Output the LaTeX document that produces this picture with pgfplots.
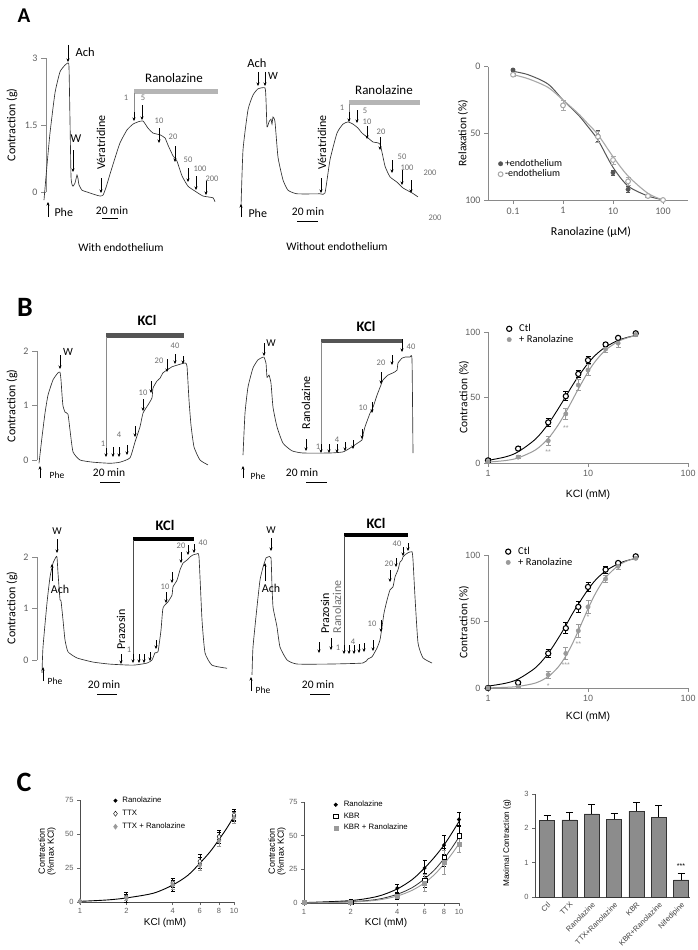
\documentclass[border=0pt]{standalone}
\usepackage{fontspec}
\setmainfont{Carlito}
\newfontfamily\arialf{Liberation Sans}
\usepackage{pgfplots}
\pgfplotsset{compat=1.18}
\usetikzlibrary{arrows.meta}
\definecolor{trace}{HTML}{303030}
\definecolor{ranbar}{HTML}{B5B5B5}
\definecolor{kclbar}{HTML}{555555}
\definecolor{axgray}{HTML}{8A8A8A}
\definecolor{ticktext}{HTML}{606060}
\definecolor{conc}{HTML}{707070}
\definecolor{darkpt}{HTML}{555555}
\definecolor{lightpt}{HTML}{A8A8A8}
\definecolor{rangray}{HTML}{9A9A9A}
\definecolor{bargray}{HTML}{8C8C8C}
\newcommand{\fs}[1]{\fontsize{#1}{#1}\selectfont}
\pgfplotsset{
  /pgf/number format/assume math mode=true,
  tracestyle/.style={scale only axis, clip=false, axis x line=none, axis y line=left,
     xtick=\empty, y axis line style={-,axgray,line width=0.6pt},
     tick align=outside, major tick length=5pt, ytick style={axgray,line width=0.6pt},
     yticklabel style={font=\fs{10}, text=ticktext}},
  hidetrace/.style={scale only axis, clip=false, hide axis},
  trl/.style={trace, line width=0.65pt, smooth, tension=0.3, mark=none},
  drc/.style={scale only axis, clip=false, axis lines=left, axis line style={-,axgray,line width=0.7pt},
     tick align=outside, major tick length=4pt, tick style={axgray,line width=0.6pt},
     xminorticks=false, yminorticks=false, ticklabel style={text=ticktext}},
}
\tikzset{arr/.style={-{Stealth[length=3.5pt,width=3pt]}, line width=0.55pt, black}}
\begin{document}
\begin{tikzpicture}
\path[use as bounding box] (0,0) rectangle (697pt,-950pt);
\fill[white] (0,0) rectangle (697pt,-950pt);

% ================= PANEL A traces =================
\begin{axis}[tracestyle, at={(46pt,-192pt)}, anchor=south west, width=174pt, height=134pt,
  xmin=46, xmax=220, ymin=0, ymax=3, ytick={0,1.5,3}, yticklabels={0,1.5,3}]
\addplot[trl] coordinates {(44,-0.18)(47,0.6)(50,1.32)(55,2.22)(60,2.69)(65,2.84)(68,2.89)(69,2.80)(70,1.6)(71,0.35)(72,0.17)(73,0.13)(75,0.2)(77,0.38)(78,0.3)(79,0.16)(82,0.04)(87,0)(95,-0.06)(100,-0.09)(103,-0.07)(106,0.1)(110,0.40)(115,0.76)(120,1.10)(127,1.39)(133,1.52)(138,1.57)(143,1.59)(148,1.43)(153,1.32)(160,1.28)(165,1.21)(168,1.05)(173,0.81)(177,0.69)(182,0.36)(188,0.13)(195,0.02)(203,-0.09)(213,-0.13)(215,-0.22)};
\end{axis}
\begin{axis}[hidetrace, at={(235pt,-192pt)}, anchor=south west, width=190pt, height=134pt,
  xmin=235, xmax=425, ymin=0, ymax=3]
\addplot[trl] coordinates {(241,-0.34)(243,0.94)(248,1.84)(253,2.17)(258,2.31)(265,2.33)(266,2.06)(267,1.46)(269,1.57)(271,1.63)(272,1.52)(273,1.68)(275,1.57)(278,0.78)(283,0.27)(288,0.04)(297,-0.04)(320,-0.04)(325,-0.02)(330,0.72)(337,1.32)(343,1.52)(348,1.57)(353,1.52)(358,1.43)(362,1.32)(367,1.23)(373,1.12)(380,1.07)(385,0.58)(390,0.34)(397,0.22)(403,0.09)(412,-0.02)(418,-0.11)};
\end{axis}

% ================= PANEL A dose-response =================
\begin{axis}[drc, at={(488pt,-200pt)}, anchor=south west, width=200pt, height=133.3pt,
  xmode=log, xmin=0.0316, xmax=316, ymin=0, ymax=100, y dir=reverse,
  xtick={0.1,1,10,100}, xticklabels={0.1,1,10,100}, ytick={0,50,100}, yticklabels={0,50,100},
  ticklabel style={font=\fs{10}},
  legend style={at={(0.035,0.335)}, anchor=north west, draw=none, fill=none, font=\fs{10}, row sep=-2pt},
  legend cell align=left,
  legend image code/.code={\draw[mark repeat=2,mark phase=2,#1] plot coordinates {(0pt,0pt)(3pt,0pt)(6pt,0pt)};}]
\addplot[darkpt, line width=1pt, smooth, forget plot] coordinates {(0.1,3.5)(0.2,6)(0.5,13)(1,25)(2,36)(3,44)(5,55)(10,75.5)(20,89.5)(50,97)(100,99.8)};
\addplot[lightpt, line width=1.1pt, smooth, forget plot] coordinates {(0.1,6)(0.2,9)(0.5,15.5)(1,25)(2,35)(3,42)(5,51)(10,67.5)(20,82)(50,95)(100,100)};
\addplot[only marks, mark=*, mark size=2.2pt, darkpt, error bars/.cd, y dir=both, y explicit,
  error bar style={darkpt,line width=0.6pt}, error mark options={rotate=90,mark size=2pt,darkpt}]
  coordinates {(0.1,2.5)+-(0,1) (1,29)+-(0,4) (5,52)+-(0,4) (10,79.5)+-(0,2) (20,92)+-(0,2) (50,97)+-(0,1) (100,100)+-(0,0)};
\addlegendentry{+endothelium}
\addplot[only marks, mark=*, mark size=2.4pt, lightpt, line width=1pt, mark options={fill=white}, error bars/.cd, y dir=both, y explicit,
  error bar style={lightpt,line width=0.8pt}, error mark options={rotate=90,mark size=2.5pt,lightpt,line width=0.8pt}]
  coordinates {(0.1,6)+-(0,1) (1,29)+-(0,4) (5,52.5)+-(0,4) (10,70)+-(0,3) (20,86)+-(0,3) (50,97)+-(0,1) (100,100)+-(0,0)};
\addlegendentry{-endothelium}
\end{axis}

% ================= PANEL B traces =================
\begin{axis}[tracestyle, at={(37pt,-460pt)}, anchor=south west, width=173pt, height=109pt,
  xmin=37, xmax=210, ymin=0, ymax=2, ytick={0,1,2}, yticklabels={0,1,2}]
\addplot[trl] coordinates {(39,-0.06)(42,0.42)(45,0.86)(48,1.19)(53,1.47)(58,1.60)(60,1.61)(61,1.47)(62,1.2)(63,0.99)(65,0.88)(68,0.84)(70,0.55)(73,0.15)(80,0)(93,-0.04)(110,-0.06)(120,-0.04)(130,0.04)(135,0.33)(140,0.61)(143,0.86)(148,1.01)(152,1.14)(153,1.32)(157,1.45)(160,1.50)(163,1.60)(167,1.65)(172,1.71)(177,1.74)(185,1.78)(187,1.72)(189,1.10)(191,0.64)(194,0.24)(200,0)(208,-0.09)};
\end{axis}
\begin{axis}[hidetrace, at={(240pt,-453pt)}, anchor=south west, width=180pt, height=109pt,
  xmin=240, xmax=420, ymin=0, ymax=2]
\addplot[trl] coordinates {(243,-0.04)(245,0.73)(248,1.21)(253,1.56)(258,1.71)(263,1.76)(264,1.76)(266,1.65)(267,1.39)(269,1.43)(271,1.28)(273,0.84)(277,0.48)(283,0.18)(292,0.04)(303,0)(330,0)(343,0.02)(350,0.09)(355,0.15)(362,0.24)(363,0.33)(365,0.48)(370,0.73)(373,0.84)(377,1.06)(381,1.25)(383,1.34)(388,1.43)(393,1.47)(397,1.52)(398,1.65)(402,1.74)(405,1.76)(410,1.76)(412,1.71)(413,0)};
\end{axis}
\begin{axis}[tracestyle, at={(37pt,-660pt)}, anchor=south west, width=193pt, height=103pt,
  xmin=37, xmax=230, ymin=0, ymax=2, ytick={0,1,2}, yticklabels={0,1,2}]
\addplot[trl] coordinates {(42,-0.25)(43,0.25)(47,1.11)(50,1.61)(53,1.88)(56,2.00)(57,2.00)(58,1.69)(60,1.17)(61,1.15)(63,0.78)(65,0.39)(68,0.16)(77,0.04)(93,-0.04)(110,-0.08)(133,-0.10)(147,-0.06)(152,0)(155,0.14)(158,0.16)(161,0.58)(163,1.01)(168,1.13)(172,1.26)(173,1.42)(177,1.55)(180,1.75)(183,1.88)(187,1.94)(190,2.00)(193,2.04)(197,2.06)(199,2.00)(202,0.78)(205,0.14)(212,-0.10)(227,-0.16)};
\end{axis}
\begin{axis}[hidetrace, at={(245pt,-663pt)}, anchor=south west, width=190pt, height=103pt,
  xmin=245, xmax=435, ymin=0, ymax=2]
\addplot[trl] coordinates {(252,-0.23)(253,0.31)(257,1.09)(260,1.61)(263,1.86)(266,2.04)(268,2.06)(271,2.04)(272,1.48)(273,1.09)(275,0.89)(277,0.70)(280,0.31)(287,0.06)(297,-0.02)(330,-0.02)(363,0)(368,0.08)(372,0.12)(377,0.29)(380,0.45)(382,0.70)(384,0.97)(387,1.22)(390,1.42)(393,1.48)(395,1.67)(398,1.81)(400,1.96)(402,2.00)(403,2.06)(405,2.10)(408,2.14)(412,2.16)(413,2.00)(415,1.28)(418,0.39)(423,0.10)(432,0)};
\end{axis}

% ================= PANEL B dose-response top =================
\begin{axis}[drc, at={(488pt,-463pt)}, anchor=south west, width=200pt, height=131pt,
  xmode=log, xmin=1, xmax=100, ymin=0, ymax=100,
  xtick={1,10,100}, xticklabels={1,10,100}, ytick={0,50,100}, yticklabels={0,50,100},
  ticklabel style={font=\arialf\fs{9}},
  legend style={at={(0.065,1.09)}, anchor=north west, draw=none, fill=none, font=\fs{10.5}, row sep=-2pt},
  legend cell align=left,
  legend image code/.code={\path[draw=none] (0pt,0pt)--(13pt,0pt); \draw[mark repeat=2,mark phase=2,#1] plot coordinates {(0pt,0pt)(5pt,0pt)(10pt,0pt)};}]
\addplot[black, line width=0.9pt, smooth, forget plot] coordinates {(1,2)(1.5,4.7)(2,8.5)(3,18.4)(4,29.8)(5,41)(6,50.9)(7,59.3)(8,66.1)(10,76.1)(12,82.7)(15,88.6)(20,93.6)(25,96)(30,97.3)};
\addplot[rangray, line width=1pt, smooth, forget plot] coordinates {(1,0.7)(1.5,1.9)(2,3.9)(3,10.1)(4,18.7)(5,28.7)(6,38.8)(7,48.2)(8,56.5)(10,69.5)(12,78.2)(15,86.2)(20,92.8)(25,95.7)(30,97.3)};
\addplot[only marks, mark=*, mark size=2.6pt, black, line width=1.1pt, mark options={fill=white}, error bars/.cd, y dir=both, y explicit,
  error bar style={black,line width=0.8pt}, error mark options={rotate=90,mark size=2.5pt,black,line width=0.8pt}]
  coordinates {(1,2)+-(0,1.5) (2,11)+-(0,1.5) (4,31)+-(0,3) (6,51)+-(0,3.5) (8,68)+-(0,3) (10,78.5)+-(0,2.5) (15,90.5)+-(0,1.5) (20,95.5)+-(0,1.5) (30,99)+-(0,1)};
\addlegendentry{Ctl}
\addplot[only marks, mark=*, mark size=2.2pt, rangray, error bars/.cd, y dir=both, y explicit,
  error bar style={rangray,line width=0.8pt}, error mark options={rotate=90,mark size=2.5pt,rangray,line width=0.8pt}]
  coordinates {(1,1)+-(0,1) (2,4.5)+-(0,1) (4,17)+-(0,3.5) (6,37.5)+-(0,4) (8,59.5)+-(0,4) (10,71)+-(0,4) (15,87)+-(0,2.5) (20,91.5)+-(0,3) (30,98)+-(0,1.5)};
\addlegendentry{+ Ranolazine}
\node[font=\arialf\fs{7}, text=rangray] at (axis cs:4,8) {**};
\node[font=\arialf\fs{7}, text=rangray] at (axis cs:6,27) {**};
\end{axis}

% ================= PANEL B dose-response bottom =================
\begin{axis}[drc, at={(488pt,-688pt)}, anchor=south west, width=200pt, height=133pt,
  xmode=log, xmin=1, xmax=100, ymin=0, ymax=100,
  xtick={1,10,100}, xticklabels={1,10,100}, ytick={0,50,100}, yticklabels={0,50,100},
  ticklabel style={font=\arialf\fs{9}},
  legend style={at={(0.06,1.09)}, anchor=north west, draw=none, fill=none, font=\fs{10.5}, row sep=-2pt},
  legend cell align=left,
  legend image code/.code={\path[draw=none] (0pt,0pt)--(13pt,0pt); \draw[mark repeat=2,mark phase=2,#1] plot coordinates {(0pt,0pt)(5pt,0pt)(10pt,0pt)};}]
\addplot[black, line width=0.9pt, smooth, forget plot] coordinates {(1,1.4)(1.5,3.6)(2,6.7)(3,15.4)(4,26)(5,37)(6,47)(7,56)(8,63)(10,74)(12,81.5)(15,88)(20,93.4)(25,96)(30,97.3)};
\addplot[rangray, line width=1pt, smooth, forget plot] coordinates {(1,0.1)(1.5,0.5)(2,1.2)(3,3.8)(4,8.6)(5,15.5)(6,24)(7,33.5)(8,43)(10,59.5)(12,71.7)(15,83)(20,92)(25,95.8)(30,97.5)};
\addplot[only marks, mark=*, mark size=2.6pt, black, line width=1.1pt, mark options={fill=white}, error bars/.cd, y dir=both, y explicit,
  error bar style={black,line width=0.8pt}, error mark options={rotate=90,mark size=2.5pt,black,line width=0.8pt}]
  coordinates {(1,0)+-(0,0.5) (2,4)+-(0,1) (4,26)+-(0,3) (6,45)+-(0,4) (8,61)+-(0,4) (10,76)+-(0,3.5) (15,89)+-(0,2.5) (20,94)+-(0,1.5) (30,99)+-(0,1)};
\addlegendentry{Ctl}
\addplot[only marks, mark=*, mark size=2.2pt, rangray, error bars/.cd, y dir=both, y explicit,
  error bar style={rangray,line width=0.8pt}, error mark options={rotate=90,mark size=2.5pt,rangray,line width=0.8pt}]
  coordinates {(1,0)+-(0,0.5) (2,1)+-(0,0.5) (4,10)+-(0,2.5) (6,26)+-(0,4.5) (8,43)+-(0,5) (10,61)+-(0,5) (15,82)+-(0,2.5) (20,91.5)+-(0,2) (30,97.5)+-(0,1)};
\addlegendentry{+ Ranolazine}
\node[font=\arialf\fs{7}, text=rangray] at (axis cs:4,1.5) {*};
\node[font=\arialf\fs{7}, text=rangray] at (axis cs:6,17) {***};
\node[font=\arialf\fs{7}, text=rangray] at (axis cs:8,33) {**};
\node[font=\arialf\fs{7}, text=rangray] at (axis cs:10,53) {*};
\end{axis}

% ================= PANEL C1 =================
\begin{axis}[drc, at={(80pt,-902pt)}, anchor=south west, width=154pt, height=102pt,
  xmode=log, xmin=1, xmax=10, ymin=0, ymax=75,
  axis line style={-,black!70,line width=0.6pt}, tick style={black!60,line width=0.5pt}, major tick length=3pt,
  xtick={1,2,4,6,8,10}, xticklabels={1,2,4,6,8,10}, ytick={0,25,50,75}, yticklabels={0,25,50,75},
  ticklabel style={font=\arialf\fs{7.5}, text=ticktext},
  legend style={at={(0.19,1.07)}, anchor=north west, draw=none, fill=none, font=\arialf\fs{7.8}, row sep=2pt},
  legend cell align=left,
  legend image code/.code={\path[draw=none] (0pt,0pt)--(8pt,0pt); \draw[mark repeat=2,mark phase=2,#1] plot coordinates {(0pt,0pt)(3pt,0pt)(6pt,0pt)};}]
\addplot[black, line width=0.9pt, smooth, forget plot] coordinates {(1,0.5)(1.5,1.5)(2,3)(3,6.5)(4,12.5)(5,19.5)(6,28.5)(7,37)(8,46)(9,54.5)(10,63)};
\addplot[only marks, mark=*, mark size=1.8pt, black, error bars/.cd, y dir=both, y explicit,
  error bar style={black,line width=0.6pt}, error mark options={rotate=90,mark size=2pt,black,line width=0.6pt}]
  coordinates {(1,0.5)+-(0,0.5) (2,3)+-(0,3) (4,12)+-(0,4) (6,28)+-(0,5) (8,46)+-(0,5) (10,63)+-(0,4)};
\addlegendentry{Ranolazine}
\addplot[only marks, mark=diamond*, mark size=2.6pt, black, mark options={fill=white}, error bars/.cd, y dir=both, y explicit,
  error bar style={black,line width=0.6pt}, error mark options={rotate=90,mark size=2pt,black,line width=0.6pt}]
  coordinates {(1,0.5)+-(0,0.5) (2,3.5)+-(0,3.5) (4,14)+-(0,3.5) (6,30)+-(0,5) (8,48)+-(0,5) (10,64)+-(0,4)};
\addlegendentry{TTX}
\addplot[only marks, mark=diamond*, mark size=2.6pt, rangray, error bars/.cd, y dir=both, y explicit,
  error bar style={rangray,line width=0.6pt}, error mark options={rotate=90,mark size=2pt,rangray,line width=0.6pt}]
  coordinates {(1,0.5)+-(0,0.5) (2,3)+-(0,2) (4,12.5)+-(0,3) (6,27)+-(0,4) (8,45)+-(0,4) (10,62)+-(0,4)};
\addlegendentry{TTX + Ranolazine}
\end{axis}

% ================= PANEL C2 =================
\begin{axis}[drc, at={(304pt,-903pt)}, anchor=south west, width=155pt, height=101pt,
  xmode=log, xmin=1, xmax=10, ymin=0, ymax=75,
  axis line style={-,black!70,line width=0.6pt}, tick style={black!60,line width=0.5pt}, major tick length=3pt,
  xtick={1,2,4,6,8,10}, xticklabels={1,2,4,6,8,10}, ytick={0,25,50,75}, yticklabels={0,25,50,75},
  ticklabel style={font=\arialf\fs{7.5}, text=ticktext},
  legend style={at={(0.165,1.05)}, anchor=north west, draw=none, fill=none, font=\arialf\fs{7.8}, row sep=0.5pt},
  legend cell align=left,
  legend image code/.code={\path[draw=none] (0pt,0pt)--(9pt,0pt); \draw[mark repeat=2,mark phase=2,#1] plot coordinates {(0pt,0pt)(3pt,0pt)(6pt,0pt)};}]
\addplot[black, line width=0.9pt, smooth, forget plot] coordinates {(1,0.3)(2,1.8)(3,5)(4,10.5)(5,17.5)(6,26)(7,34.5)(8,43)(9,52)(10,60.5)};
\addplot[black!80, line width=0.8pt, smooth, forget plot] coordinates {(1,0.2)(2,1)(3,2.8)(4,6.5)(5,11.5)(6,18)(7,25)(8,33)(9,41)(10,49)};
\addplot[rangray, line width=0.9pt, smooth, forget plot] coordinates {(1,0.1)(2,0.7)(3,2.2)(4,5.2)(5,9.5)(6,15)(7,21.5)(8,29)(9,36.5)(10,44)};
\addplot[only marks, mark=*, mark size=1.8pt, black, error bars/.cd, y dir=both, y explicit,
  error bar style={black,line width=0.6pt}, error mark options={rotate=90,mark size=2pt,black,line width=0.6pt}]
  coordinates {(1,0.5)+-(0,0.5) (2,1.5)+-(0,1) (4,11)+-(0,3) (6,26)+-(0,6) (8,43)+-(0,7) (10,62)+-(0,5)};
\addlegendentry{Ranolazine}
\addplot[only marks, mark=square*, mark size=2.2pt, black, mark options={fill=white}, error bars/.cd, y dir=both, y explicit,
  error bar style={black,line width=0.6pt}, error mark options={rotate=90,mark size=2pt,black,line width=0.6pt}]
  coordinates {(1,0.5)+-(0,0.5) (2,0.8)+-(0,0.8) (4,5)+-(0,2) (6,17)+-(0,5) (8,34)+-(0,7) (10,50)+-(0,8)};
\addlegendentry{KBR}
\addplot[only marks, mark=square*, mark size=2pt, rangray, error bars/.cd, y dir=both, y explicit,
  error bar style={rangray,line width=0.6pt}, error mark options={rotate=90,mark size=2pt,rangray,line width=0.6pt}]
  coordinates {(1,0.3)+-(0,0.3) (2,0.5)+-(0,0.5) (4,5)+-(0,1.5) (6,15)+-(0,6) (8,30)+-(0,9) (10,44)+-(0,6)};
\addlegendentry{KBR + Ranolazine}
\end{axis}

% ================= PANEL C3 bars =================
\begin{axis}[scale only axis, clip=false, at={(535pt,-897pt)}, anchor=south west, width=155pt, height=103pt,
  ybar, bar width=15pt, xmin=-0.54, xmax=6.4, ymin=0, ymax=3,
  axis lines=left, axis line style={-,black!70,line width=0.6pt},
  tick align=outside, major tick length=3pt, tick style={black!60,line width=0.5pt},
  xtick={0,1,2,3,4,5,6}, xtick style={draw=none},
  xticklabels={Ctl,TTX,Ranolazine,TTX+Ranolazine,KBR,KBR+Ranolazine,Nifedipine},
  xticklabel style={rotate=45, anchor=north east, font=\arialf\fs{7.5}, text=black!75, inner sep=1pt},
  ytick={0,1,2,3}, yticklabels={0,1,2,3}, yticklabel style={font=\arialf\fs{7.5}, text=ticktext}]
\addplot[fill=bargray, draw=black!80, line width=0.5pt, error bars/.cd, y dir=plus, y explicit,
  error bar style={black,line width=0.6pt}, error mark options={rotate=90,mark size=3.5pt,black,line width=0.6pt}]
  coordinates {(0,2.23)+-(0,0.15) (1,2.25)+-(0,0.23) (2,2.42)+-(0,0.28) (3,2.27)+-(0,0.16) (4,2.5)+-(0,0.25) (5,2.33)+-(0,0.33) (6,0.5)+-(0,0.2)};
\node[font=\arialf\fs{7}] at (axis cs:6,0.9) {***};
\end{axis}

% ================= annotations =================
\begin{scope}[x=1pt,y=-1pt]
% panel letters
\node[font=\bfseries\fs{21}] at (24,16) {A};
\node[font=\bfseries\fs{28}] at (25,307) {B};
\node[font=\bfseries\fs{28}] at (24,782) {C};

% ---- A1 ----
\node[rotate=90, font=\fs{12}] at (12,125) {Contraction (g)};
\draw[arr] (68,45)--(68,62); \node[anchor=west, font=\fs{12.5}] at (72,52) {Ach};
\draw[arr] (73,150)--(73,172); \node[font=\fs{12}] at (76,139) {W};
\draw[arr] (48,217)--(48,202); \node[anchor=west, font=\fs{12}] at (51,212) {Phe};
\node[rotate=90, anchor=west, font=\fs{12}] at (101,173) {Vératridine};
\draw[arr] (101,178)--(101,193);
\node[font=\fs{11.5}] at (112,211) {20 min};
\draw[line width=1pt] (102,218)--(118,218);
\node[font=\fs{13}] at (174,78) {Ranolazine};
\fill[ranbar] (134,88.5) rectangle (218,93.5);
\draw[axgray, line width=0.5pt] (134,93)--(134,114); \draw[arr] (134,112)--(134,121);
\begin{scope}[every node/.style={font=\fs{8.5}, text=conc}]
\node at (126,98) {1};
\node at (143,98) {5};
\node at (159,121) {10};
\node at (173,137) {20};
\node at (188,160) {50};
\node at (200,169) {100};
\node at (212,179) {200};
\end{scope}
\draw[arr] (142,105)--(142,120);
\draw[arr] (159,128)--(159,143);
\draw[arr] (175,146)--(175,162);
\draw[arr] (188,168)--(188,182);
\draw[arr] (196,176)--(196,190);
\draw[arr] (206,181)--(206,195);
\node[font=\fs{11.5}] at (121,248) {With endothelium};

% ---- A2 ----
\draw[arr] (258,72)--(258,86); \node[font=\fs{12.5}] at (257,63) {Ach};
\draw[arr] (265,72)--(265,86); \node[font=\fs{11}] at (273,76) {W};
\draw[arr] (241,217)--(241,204); \node[anchor=west, font=\fs{12}] at (245,213) {Phe};
\node[rotate=90, anchor=west, font=\fs{12}] at (322,173) {Vératridine};
\draw[arr] (321,178)--(321,193);
\node[font=\fs{11.5}] at (308,212) {20 min};
\draw[line width=1pt] (297,221)--(318,221);
\node[font=\fs{13}] at (384,90) {Ranolazine};
\fill[ranbar] (349,99.5) rectangle (420,104.5);
\draw[axgray, line width=0.5pt] (349,104)--(349,114); \draw[arr] (349,112)--(349,122);
\begin{scope}[every node/.style={font=\fs{8.5}, text=conc}]
\node at (342,108) {1};
\node at (365,111) {5};
\node at (367,122) {10};
\node at (381,132) {20};
\node at (402,157) {50};
\node at (407,168) {100};
\node at (430,173) {200};
\node at (435,218) {200};
\end{scope}
\draw[arr] (357,110)--(357,123);
\draw[arr] (367,126)--(367,139);
\draw[arr] (380,137)--(380,150);
\draw[arr] (392,160)--(392,173);
\draw[arr] (402,170)--(402,185);
\draw[arr] (411,180)--(411,193);
\node[font=\fs{11.5}] at (337,247) {Without endothelium};

% ---- A right labels ----
\node[rotate=90, font=\fs{11.5}] at (463,133) {Relaxation (\%)};
\node[font=\fs{12}] at (591,232) {Ranolazine (µM)};

% ---- B1 ----
\node[rotate=90, font=\fs{12}] at (12,406) {Contraction (g)};
\draw[arr] (60,355)--(60,369); \node[font=\fs{11}] at (68,352) {W};
\draw[arr] (40,478)--(40,466); \node[font=\fs{9.5}] at (57,475) {Phe};
\node[font=\bfseries\fs{14.5}] at (147,320) {KCl};
\fill[kclbar] (106,333) rectangle (184,337.5);
\draw[axgray, line width=0.5pt] (106,337)--(106,450); \draw[arr] (106,448)--(106,457);
\draw[arr] (113,447)--(113,457);
\draw[arr] (119,447)--(119,457);
\draw[arr] (127,445)--(127,455);
\draw[arr] (135,426)--(135,437);
\draw[arr] (143,399)--(143,411);
\draw[arr] (151,381)--(151,393);
\draw[arr] (167,359)--(167,372);
\draw[arr] (175,354)--(175,364);
\draw[arr] (183,356)--(183,364);
\begin{scope}[every node/.style={font=\fs{8.5}, text=conc}]
\node at (103,444) {1};
\node at (119,435) {4};
\node at (143,393) {10};
\node at (159,361) {20};
\node at (175,346) {40};
\end{scope}
\node[font=\fs{11.5}] at (109,473) {20 min};
\draw[line width=1pt] (100,482)--(120,482);

% ---- B2 ----
\draw[arr] (264,343)--(264,356); \node[font=\fs{10.5}] at (271,343) {W};
\draw[arr] (243,478)--(243,466); \node[font=\fs{9.5}] at (258,476) {Phe};
\node[rotate=90, anchor=west, font=\fs{12}] at (306,433) {Ranolazine};
\draw[arr] (306,439)--(306,451);
\node[font=\bfseries\fs{14.5}] at (366,326) {KCl};
\fill[kclbar] (321,338.5) rectangle (403,343);
\draw[axgray, line width=0.5pt] (321,342)--(321,446); \draw[arr] (321,444)--(321,453);
\draw[arr] (329,444)--(329,453);
\draw[arr] (337,444)--(337,453);
\draw[arr] (345,442)--(345,451);
\draw[arr] (353,440)--(353,449);
\draw[arr] (362,429)--(362,439);
\draw[arr] (372,402)--(372,413);
\draw[arr] (381,372)--(381,384);
\draw[arr] (392,355)--(392,365);
\draw[arr] (402,339)--(402,352);
\begin{scope}[every node/.style={font=\fs{8.5}, text=conc}]
\node at (318,447) {1};
\node at (337,440) {4};
\node at (363,408) {10};
\node at (381,363) {20};
\node at (411,347) {40};
\end{scope}
\node[font=\fs{11.5}] at (302,473) {20 min};
\draw[line width=1pt] (306,482)--(327,482);

% ---- B3 ----
\node[rotate=90, font=\fs{12}] at (12,608) {Contraction (g)};
\draw[arr] (57,539)--(57,553); \node[font=\fs{10.5}] at (57,531) {W};
\draw[arr] (52,581)--(52,564); \node[font=\fs{12}] at (60,589) {Ach};
\draw[arr] (43,681)--(43,667); \node[font=\fs{9.5}] at (55,681) {Phe};
\node[rotate=90, anchor=west, font=\fs{12}] at (121,653) {Prazosin};
\draw[arr] (121,654)--(121,664);
\node[font=\bfseries\fs{14.5}] at (165,525) {KCl};
\fill[black] (133,537) rectangle (194,541);
\draw[black!70, line width=0.5pt] (133,540)--(133,656); \draw[arr] (133,654)--(133,663);
\draw[arr] (139,654)--(139,663);
\draw[arr] (144,654)--(144,663);
\draw[arr] (150,652)--(150,661);
\draw[arr] (156,640)--(156,649);
\draw[arr] (166,592)--(166,603);
\draw[arr] (172,572)--(172,583);
\draw[arr] (181,552)--(181,563);
\draw[arr] (188,545)--(188,555);
\draw[arr] (194,544)--(194,553);
\begin{scope}[every node/.style={font=\fs{8.5}, text=conc}]
\node at (129,650) {1};
\node at (165,587) {10};
\node at (181,546) {20};
\node at (203,543) {40};
\end{scope}
\node[font=\fs{11.5}] at (104,685) {20 min};
\draw[line width=1pt] (97,694)--(117,694);

% ---- B4 ----
\draw[arr] (271,538)--(271,551); \node[font=\fs{10.5}] at (271,530) {W};
\draw[arr] (265,581)--(265,563); \node[font=\fs{12}] at (271,588) {Ach};
\draw[arr] (251,691)--(251,677); \node[font=\fs{9.5}] at (263,690) {Phe};
\node[rotate=90, anchor=west, font=\fs{12}] at (325,637) {Prazosin};
\node[rotate=90, anchor=west, font=\fs{12}, text=conc] at (337,637) {Ranolazine};
\draw[arr] (319,642)--(319,653);
\draw[arr] (331,638)--(331,650);
\node[font=\bfseries\fs{14.5}] at (376,523) {KCl};
\fill[black] (344,533) rectangle (408,537);
\draw[black!70, line width=0.5pt] (344,536)--(344,647); \draw[arr] (344,645)--(344,654);
\draw[arr] (349,645)--(349,654);
\draw[arr] (354,645)--(354,654);
\draw[arr] (359,644)--(359,653);
\draw[arr] (364,643)--(364,652);
\draw[arr] (373,640)--(373,651);
\draw[arr] (381,620)--(381,632);
\draw[arr] (390,570)--(390,582);
\draw[arr] (396,558)--(396,567);
\draw[arr] (403,547)--(403,556);
\draw[arr] (408,543)--(408,551);
\begin{scope}[every node/.style={font=\fs{8.5}, text=conc}]
\node at (338,648) {1};
\node at (353,642) {4};
\node at (372,624) {10};
\node at (389,564) {20};
\node at (397,544) {40};
\end{scope}
\node[font=\fs{11.5}] at (318,685) {20 min};
\draw[line width=1pt] (310,694)--(330,694);

% ---- B right labels ----
\node[rotate=90, font=\fs{11.5}] at (464,397) {Contraction (\%)};
\node[font=\arialf\fs{10.5}] at (588,495) {KCl (mM)};
\node[rotate=90, font=\fs{11.5}] at (464,622) {Contraction (\%)};
\node[font=\arialf\fs{10.5}] at (588,717) {KCl (mM)};

% ---- C labels ----
\node[rotate=90, font=\arialf\fs{9}, align=center] at (47,851) {Contraction\\(\%max KCl)};
\node[font=\arialf\fs{10}] at (165,923) {KCl (mM)};
\node[rotate=90, font=\arialf\fs{9}, align=center] at (277,851) {Contraction\\(\%max KCl)};
\node[font=\arialf\fs{10}] at (386,923) {KCl (mM)};
\node[rotate=90, font=\arialf\fs{8.2}] at (507,843) {Maximal Contraction (g)};
\end{scope}
\end{tikzpicture}
\end{document}
